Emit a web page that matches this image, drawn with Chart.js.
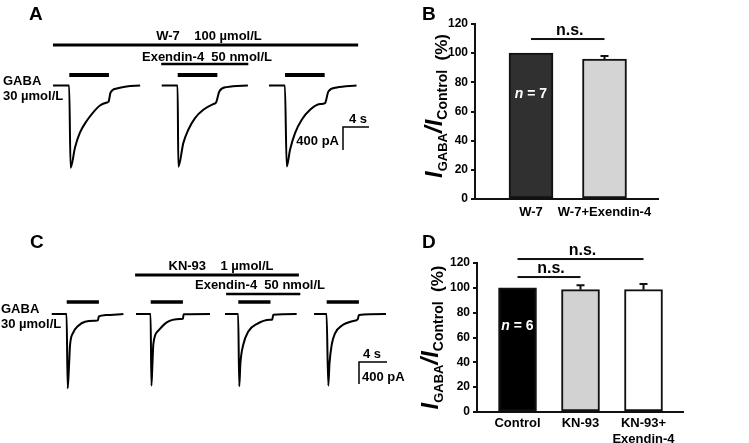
<!DOCTYPE html>
<html>
<head>
<meta charset="utf-8">
<script src="https://cdn.jsdelivr.net/npm/chart.js@4.4.0/dist/chart.umd.min.js"></script>
<style>
body { margin: 0; background: #fff; }
#wrap { position: relative; width: 749px; height: 443px; overflow: hidden; background: #fff; }
canvas { position: absolute; }
</style>
</head>
<body>
<div id="wrap">
<canvas id="chartA" width="380" height="215" style="left:0;top:0"></canvas>
<canvas id="chartC" width="410" height="228" style="left:0;top:215px"></canvas>
<canvas id="chartB" width="369" height="225" style="left:380px;top:0"></canvas>
<canvas id="chartD" width="369" height="223" style="left:380px;top:220px"></canvas>
</div>
<script>
var FONT = "'Liberation Sans', Arial, sans-serif"
var TXT = 'bold 13px ' + FONT
var INK = '#111'
Chart.defaults.font.family = FONT
Chart.defaults.color = '#000'

// ---- panel A: W-7 100 umol/L, traces (time in s from GABA onset, current in pA)
var onsetA = [10.66, 27.34, 43.85]
var gabaDurA = 6.1
var w7SpanA = [8.15, 55.1]
var exendinSpanA = [24.8, 38.2]
var tA1 = [-2.5, -0.02, 0.2, 0.88, 1.65, 2.72, 3.65, 4.72, 5.8, 6.05, 6.35, 7.3, 8.8, 10.9]
var iA1 = [0, 0, -1430, -1078, -817, -609, -470, -348, -296, -280, -122, -52, -17, 0]
var tA2 = [-2.46, -0.02, 0.1, 0.86, 1.63, 2.66, 3.94, 5.48, 5.9, 6.4, 7.5, 10.8]
var iA2 = [0, 0, -1414, -1002, -770, -567, -423, -323, -296, -104, -28, 0]
var tA3 = [-2.46, -0.02, 0.26, 0.77, 1.54, 2.57, 3.85, 5.38, 6.15, 6.67, 7.95, 11.0]
var iA3 = [0, 0, -1409, -1118, -828, -597, -423, -323, -306, -104, -35, 0]

// ---- panel C: KN-93 1 umol/L
var onsetC = [9.53, 21.53, 34.04, 46.67]
var gabaDurC = 4.6
var kn93SpanC = [19.3, 42.7]
var exendinSpanC = [32.3, 42.9]
var tC1 = [-2.14, -0.02, 0.14, 0.33, 0.47, 0.95, 1.66, 2.61, 4.04, 4.45, 4.6, 5.5, 8.1]
var iC1 = [0, 0, -1353, -940, -576, -335, -213, -140, -122, -115, -44, -20, 0]
var tC2 = [-2.1, -0.02, 0.1, 0.25, 0.38, 1.09, 2.29, 4.19, 4.6, 4.7, 8.47]
var iC2 = [0, 0, -1303, -900, -545, -304, -151, -91, -88, -5, 0]
var tC3 = [-1.9, -0.02, 0.14, 0.3, 0.71, 1.43, 2.63, 4.53, 4.85, 5.0, 8.34]
var iC3 = [0, 0, -1316, -900, -558, -316, -182, -104, -100, -13, 0]
var tC4 = [-1.8, -0.02, 0.23, 0.4, 0.71, 1.19, 2.14, 3.8, 4.45, 4.6, 8.47]
var iC4 = [0, 0, -1303, -900, -564, -351, -213, -127, -91, -18, 0]

// scale bars
var scaleTime = 4      // s
var scaleCurrent = 400 // pA

// ---- panel B
var labelsB = ['W-7', 'W-7+Exendin-4']
var valuesB = [100, 96]
var errorsB = [0, 2]
var nB = 7

// ---- panel D
var labelsD = ['Control', 'KN-93', ['KN-93+', 'Exendin-4']]
var valuesD = [100, 98.5, 98.5]
var errorsD = [0, 3.5, 4.5]
var nD = 6

var yTicks = [0, 20, 40, 60, 80, 100, 120]

function toPoints(t, i, onset) {
  return t.map(function (v, k) { return { x: v + onset, y: i[k] } })
}

function text(ctx, s, x, y, font, align, color) {
  ctx.font = font
  ctx.textAlign = align || 'left'
  ctx.textBaseline = 'alphabetic'
  ctx.fillStyle = color || '#000'
  ctx.fillText(s, x, y)
}

function hbar(ctx, x1, x2, yc, h) {
  ctx.fillStyle = '#000'
  ctx.fillRect(x1, yc - h / 2, x2 - x1, h)
}

// mixed-font run; parts: [text, font, dy]
function segs(ctx, parts, x, y, color) {
  var w = 0
  parts.forEach(function (p) { ctx.font = p[1]; w += ctx.measureText(p[0]).width })
  var cx = x - w / 2
  ctx.textAlign = 'left'
  ctx.textBaseline = 'alphabetic'
  ctx.fillStyle = color || '#000'
  parts.forEach(function (p) {
    ctx.font = p[1]
    ctx.fillText(p[0], cx, y + (p[2] || 0))
    cx += ctx.measureText(p[0]).width
  })
}

function yTitle(ctx, cx, cy) {
  ctx.save()
  ctx.translate(cx, cy)
  ctx.rotate(-Math.PI / 2)
  segs(ctx, [
    ['I', 'italic bold 24px ' + FONT, 0],
    ['GABA', 'bold 13px ' + FONT, 5],
    ['/', 'italic bold 24px ' + FONT, 0],
    ['I', 'italic bold 24px ' + FONT, 0],
    ['Control', 'bold 14px ' + FONT, 5],
    ['  (%)', 'bold 17px ' + FONT, 5]
  ], 0, 0)
  ctx.restore()
}

function scaleBar(ctx, xs, ys, px, py) {
  var px2 = xs.getPixelForValue(xs.getValueForPixel(px) + scaleTime)
  var py2 = ys.getPixelForValue(ys.getValueForPixel(py) - scaleCurrent)
  ctx.strokeStyle = '#000'
  ctx.lineWidth = 1.5
  ctx.beginPath()
  ctx.moveTo(px2, py)
  ctx.lineTo(px, py)
  ctx.lineTo(px, py2)
  ctx.stroke()
}

function traceChart(id, sets, xMax, yMin, yMax, plugin) {
  return new Chart(document.getElementById(id), {
    type: 'line',
    data: {
      datasets: sets.map(function (s) {
        return { data: s, borderColor: '#000', borderWidth: 2, pointRadius: 0,
                 cubicInterpolationMode: 'monotone', fill: false }
      })
    },
    options: {
      responsive: false, animation: false, events: [],
      layout: { padding: 0 },
      plugins: { legend: { display: false }, tooltip: { enabled: false } },
      scales: {
        x: { type: 'linear', display: false, min: 0, max: xMax },
        y: { display: false, min: yMin, max: yMax }
      }
    },
    plugins: [plugin]
  })
}

var panelA = {
  id: 'panelA',
  afterDraw: function (chart) {
    var ctx = chart.ctx, x = chart.scales.x, y = chart.scales.y
    ctx.save()
    text(ctx, 'A', 29, 20, 'bold 19px ' + FONT)
    hbar(ctx, x.getPixelForValue(w7SpanA[0]), x.getPixelForValue(w7SpanA[1]), 45, 3)
    text(ctx, 'W-7    100 µmol/L', 209, 40, TXT, 'center')
    hbar(ctx, x.getPixelForValue(exendinSpanA[0]), x.getPixelForValue(exendinSpanA[1]), 64, 2.5)
    text(ctx, 'Exendin-4  50 nmol/L', 207, 61, TXT, 'center')
    onsetA.forEach(function (o) {
      hbar(ctx, x.getPixelForValue(o), x.getPixelForValue(o + gabaDurA), 75, 4)
    })
    text(ctx, 'GABA', 3, 85, TXT)
    text(ctx, '30 µmol/L', 3, 100, TXT)
    scaleBar(ctx, x, y, 343, 127)
    text(ctx, '4 s', 358, 123, TXT, 'center')
    text(ctx, '400 pA', 339, 145, TXT, 'right')
    ctx.restore()
  }
}

var panelC = {
  id: 'panelC',
  afterDraw: function (chart) {
    var ctx = chart.ctx, x = chart.scales.x, y = chart.scales.y
    ctx.save()
    text(ctx, 'C', 30, 33, 'bold 19px ' + FONT)
    hbar(ctx, x.getPixelForValue(kn93SpanC[0]), x.getPixelForValue(kn93SpanC[1]), 60, 3)
    text(ctx, 'KN-93    1 µmol/L', 221, 55, TXT, 'center')
    hbar(ctx, x.getPixelForValue(exendinSpanC[0]), x.getPixelForValue(exendinSpanC[1]), 79, 2.5)
    text(ctx, 'Exendin-4  50 nmol/L', 260, 74, TXT, 'center')
    onsetC.forEach(function (o) {
      hbar(ctx, x.getPixelForValue(o), x.getPixelForValue(o + gabaDurC), 87, 3.5)
    })
    text(ctx, 'GABA', 1, 98, TXT)
    text(ctx, '30 µmol/L', 1, 113, TXT)
    scaleBar(ctx, x, y, 359, 147)
    text(ctx, '4 s', 372, 143, TXT, 'center')
    text(ctx, '400 pA', 362, 166, TXT, 'left')
    ctx.restore()
  }
}

traceChart('chartA', [toPoints(tA1, iA1, onsetA[0]), toPoints(tA2, iA2, onsetA[1]), toPoints(tA3, iA3, onsetA[2])],
  380 / 6.5, -2252, 1487, panelA)
traceChart('chartC', [toPoints(tC1, iC1, onsetC[0]), toPoints(tC2, iC2, onsetC[1]),
  toPoints(tC3, iC3, onsetC[2]), toPoints(tC4, iC4, onsetC[3])],
  410 / 7, -2345, 1800, panelC)

// ---- bar charts
function barPlugin(id, letter, letterY, values, errors, nText, nVal, sig, titleX, titleY) {
  return {
    id: id,
    afterDraw: function (chart) {
      var ctx = chart.ctx, x = chart.scales.x, y = chart.scales.y
      ctx.save()
      text(ctx, letter, 42, letterY, 'bold 19px ' + FONT)
      // error bars (upward, SEM)
      ctx.strokeStyle = INK
      ctx.lineWidth = 2
      values.forEach(function (v, k) {
        if (!errors[k]) return
        var px = x.getPixelForValue(k + 1)
        var y1 = y.getPixelForValue(v), y2 = y.getPixelForValue(v + errors[k])
        ctx.beginPath()
        ctx.moveTo(px, y1); ctx.lineTo(px, y2)
        ctx.moveTo(px - 4, y2); ctx.lineTo(px + 4, y2)
        ctx.stroke()
      })
      // n label in first bar
      segs(ctx, [['n', 'italic bold 14px ' + FONT], [' = ' + nText, 'bold 14px ' + FONT]],
        x.getPixelForValue(1), y.getPixelForValue(nVal) + 5, '#fff')
      // significance brackets
      sig.forEach(function (s) {
        var x1 = x.getPixelForValue(s[0]), x2 = x.getPixelForValue(s[1]), yy = y.getPixelForValue(s[2])
        ctx.fillStyle = INK
        ctx.fillRect(x1, yy - 1, x2 - x1, 2)
        text(ctx, 'n.s.', (x1 + x2) / 2 + 2, yy - 4, 'bold 16px ' + FONT, 'center')
      })
      yTitle(ctx, titleX, titleY)
      ctx.restore()
    }
  }
}

function barChart(id, labels, values, colors, xMin, xMax, thickness, pad, xAxisH, labelPad, fontSize, plugin) {
  return new Chart(document.getElementById(id), {
    type: 'bar',
    data: {
      datasets: [{
        data: values.map(function (v, k) { return { x: k + 1, y: v } }),
        backgroundColor: colors,
        borderColor: INK,
        borderWidth: 2,
        borderSkipped: false,
        barThickness: thickness
      }]
    },
    options: {
      responsive: false, animation: false, events: [],
      layout: { padding: pad },
      plugins: { legend: { display: false }, tooltip: { enabled: false } },
      scales: {
        x: {
          type: 'linear', min: xMin, max: xMax, offset: false,
          afterBuildTicks: function (s) { s.ticks = labels.map(function (l, k) { return { value: k + 1 } }) },
          afterFit: function (s) { s.height = xAxisH },
          ticks: {
            autoSkip: false, maxRotation: 0, padding: labelPad,
            font: { size: fontSize, weight: 'bold' }, color: '#000',
            callback: function (v, k) { return labels[k] }
          },
          grid: { display: false, drawTicks: false, offset: false },
          border: { display: true, color: INK, width: 2 }
        },
        y: {
          min: 0, max: 120,
          afterBuildTicks: function (s) { s.ticks = yTicks.map(function (v) { return { value: v } }) },
          afterFit: function (s) { s.width = 30 },
          ticks: { padding: 3, font: { size: 12, weight: 'bold' }, color: '#000' },
          grid: { display: true, drawOnChartArea: false, drawTicks: true, tickLength: 4, color: INK, lineWidth: 2 },
          border: { display: true, color: INK, width: 2 }
        }
      }
    },
    plugins: [plugin]
  })
}

barChart('chartB', labelsB, valuesB, ['#303030', '#d4d4d4'], 0.238, 2.728, 44,
  { left: 65, right: 91, top: 24, bottom: 0 }, 26, 6, 13,
  barPlugin('panelB', 'B', 20, valuesB, errorsB, nB, 73, [[1, 2, 109.7]], 62, 106))

barChart('chartD', labelsD, valuesD, ['#000000', '#d2d2d2', '#ffffff'], 0.357, 3.627, 38,
  { left: 67, right: 66, top: 43, bottom: 0 }, 31, 4, 13,
  barPlugin('panelD', 'D', 28, valuesD, errorsD, nD, 70, [[1, 2, 108.7], [1, 3, 123.2]], 58, 117.5))
</script>
</body>
</html>
